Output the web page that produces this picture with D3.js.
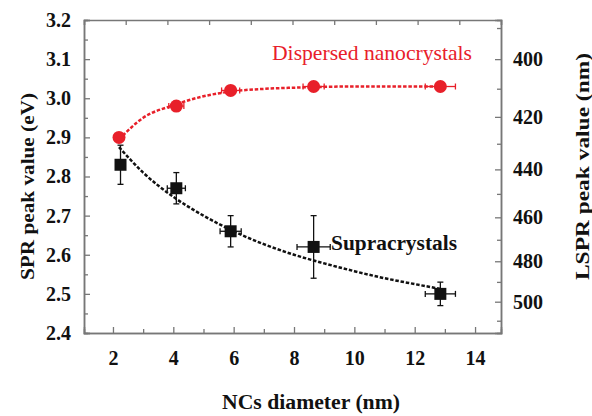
<!DOCTYPE html>
<html>
<head>
<meta charset="utf-8">
<script src="https://cdn.jsdelivr.net/npm/d3@7"></script>
<style>
  body { margin: 0; background: #fff; }
  svg { display: block; }
</style>
</head>
<body>
<svg id="chart" width="592" height="416"></svg>
<script>
// NCs diameter (nm) and SPR peak (eV)
const dispersedX = [2.2, 4.1, 5.9, 8.65, 12.85];
const dispersedY = [2.90, 2.98, 3.02, 3.03, 3.03];
const dispersedXErr = [0.15, 0.25, 0.3, 0.35, 0.5];
const dispersedYErr = [0.012, 0.012, 0.012, 0.012, 0.012];

const supraX = [2.25, 4.1, 5.9, 8.65, 12.85];
const supraY = [2.83, 2.77, 2.66, 2.62, 2.50];
const supraXErr = [0.1, 0.3, 0.35, 0.55, 0.5];
const supraYErr = [0.05, 0.04, 0.04, 0.08, 0.03];

// fitted curves
const dispersedFitX = [2.2, 3, 4, 5, 6, 7, 8, 10, 12.9];
const dispersedFitY = [2.895, 2.95, 2.982, 3.005, 3.018, 3.024, 3.027, 3.03, 3.03];
const supraFitX = [2.2, 3, 4, 5, 6, 7, 8, 9, 10, 11, 12, 12.9];
const supraFitY = [2.875, 2.81, 2.748, 2.70, 2.66, 2.627, 2.60, 2.578, 2.558, 2.54, 2.525, 2.512];

const xTicks = [2, 4, 6, 8, 10, 12, 14];
const yTicks = [2.4, 2.5, 2.6, 2.7, 2.8, 2.9, 3.0, 3.1, 3.2];
const lsprTicks = [400, 420, 440, 460, 480, 500];
const lsprMinor = [390, 410, 430, 450, 470, 490, 510];

// pick a serif face if one is installed
function pickFont(list) {
    const ctx = document.createElement("canvas").getContext("2d");
    const probe = "NCs diameter 0123456789 Wmi";
    ctx.font = "bold 40px monospace";
    const base = ctx.measureText(probe).width;
    for (const f of list) {
        ctx.font = `bold 40px "${f}", monospace`;
        if (Math.abs(ctx.measureText(probe).width - base) > 0.5) return `"${f}"`;
    }
    return "serif";
}
const font = pickFont(["Liberation Serif", "DejaVu Serif", "Noto Serif", "Times New Roman", "Tinos", "FreeSerif"]) + ", serif";

const svg = d3.select("#chart");
const frameColor = "#777";

const x = d3.scaleLinear().domain([1.04, 14.86]).range([84, 501]);
const y = d3.scaleLinear().domain([2.4, 3.2]).range([333, 20]);
const xTop = d3.scaleLinear().domain([0, 10]).range([84, 501]);

function styleAxis(g, size) {
    g.attr("font-family", null);
    g.select(".domain").attr("stroke", frameColor).attr("stroke-width", 1.5);
    g.selectAll(".tick line").attr("stroke", frameColor).attr("stroke-width", 1.3);
    g.selectAll("text")
        .style("font-family", font)
        .style("font-weight", "bold")
        .style("font-size", size + "px")
        .attr("fill", "#111");
}

// bottom axis, major + minor
const bottomAxis = svg.append("g").attr("transform", "translate(0,333)")
    .call(d3.axisBottom(x).tickValues(xTicks).tickSize(-6).tickPadding(18).tickFormat(d3.format("d")));
styleAxis(bottomAxis, 20);
const bottomMinor = svg.append("g").attr("transform", "translate(0,333)")
    .call(d3.axisBottom(x).tickValues([3, 5, 7, 9, 11, 13]).tickSize(-4).tickFormat(""));
styleAxis(bottomMinor, 20);

// top axis
const topAxis = svg.append("g").attr("transform", "translate(0,20)")
    .call(d3.axisTop(xTop).ticks(10).tickSize(-5).tickFormat(""));
styleAxis(topAxis, 20);

// left axis
const leftAxis = svg.append("g").attr("transform", "translate(84,0)")
    .call(d3.axisLeft(y).tickValues(yTicks).tickSize(-6).tickPadding(13).tickFormat(d3.format(".1f")));
styleAxis(leftAxis, 20);
const leftMinor = svg.append("g").attr("transform", "translate(84,0)")
    .call(d3.axisLeft(y).tickValues(d3.range(2.45, 3.2, 0.1)).tickSize(-4).tickFormat(""));
styleAxis(leftMinor, 20);

// right axis: wavelength in nm, E = 1240 / lambda
const rightAxis = svg.append("g").attr("transform", "translate(501,0)")
    .call(d3.axisRight(y).tickValues(lsprTicks.map(l => 1240 / l)).tickSize(-6).tickPadding(12)
        .tickFormat(e => Math.round(1240 / e)));
styleAxis(rightAxis, 20);
const rightMinor = svg.append("g").attr("transform", "translate(501,0)")
    .call(d3.axisRight(y).tickValues(lsprMinor.map(l => 1240 / l)).tickSize(-4).tickFormat(""));
styleAxis(rightMinor, 20);

// fit curves
const line = d3.line().x(d => x(d[0])).y(d => y(d[1])).curve(d3.curveMonotoneX);

svg.append("path")
    .datum(dispersedFitX.map((v, i) => [v, dispersedFitY[i]]))
    .attr("fill", "none").attr("stroke", "#e8202a").attr("stroke-width", 2.5)
    .attr("stroke-dasharray", "3.5,1.8").attr("d", line);

svg.append("path")
    .datum(supraFitX.map((v, i) => [v, supraFitY[i]]))
    .attr("fill", "none").attr("stroke", "#111").attr("stroke-width", 2.5)
    .attr("stroke-dasharray", "3.5,1.8").attr("d", line);

// error bars
function errorBars(xs, ys, xe, ye, color) {
    const g = svg.append("g").attr("stroke", color).attr("stroke-width", 1.3);
    xs.forEach((xv, i) => {
        const cx = x(xv), cy = y(ys[i]);
        const y1 = y(ys[i] + ye[i]), y2 = y(ys[i] - ye[i]);
        const x1 = x(xv - xe[i]), x2 = x(xv + xe[i]);
        g.append("line").attr("x1", cx).attr("x2", cx).attr("y1", y1).attr("y2", y2);
        g.append("line").attr("x1", cx - 3).attr("x2", cx + 3).attr("y1", y1).attr("y2", y1);
        g.append("line").attr("x1", cx - 3).attr("x2", cx + 3).attr("y1", y2).attr("y2", y2);
        g.append("line").attr("x1", x1).attr("x2", x2).attr("y1", cy).attr("y2", cy);
        g.append("line").attr("x1", x1).attr("x2", x1).attr("y1", cy - 3).attr("y2", cy + 3);
        g.append("line").attr("x1", x2).attr("x2", x2).attr("y1", cy - 3).attr("y2", cy + 3);
    });
}
errorBars(dispersedX, dispersedY, dispersedXErr, dispersedYErr, "#e8202a");
errorBars(supraX, supraY, supraXErr, supraYErr, "#111");

// markers
svg.append("g").selectAll("circle")
    .data(dispersedX)
    .join("circle")
    .attr("cx", d => x(d))
    .attr("cy", (d, i) => y(dispersedY[i]))
    .attr("r", 6.5)
    .attr("fill", "#e8202a");

svg.append("g").selectAll("rect")
    .data(supraX)
    .join("rect")
    .attr("x", d => x(d) - 6)
    .attr("y", (d, i) => y(supraY[i]) - 6)
    .attr("width", 12)
    .attr("height", 12)
    .attr("fill", "#111");

// text helper
function label(t, size, bold, color, len) {
    return svg.append("text")
        .text(t)
        .attr("textLength", len)
        .attr("lengthAdjust", "spacingAndGlyphs")
        .style("font-family", font)
        .style("font-weight", bold ? "bold" : "normal")
        .style("font-size", size + "px")
        .attr("fill", color);
}

// series labels
label("Dispersed nanocrystals", 21, false, "#e8202a", 200).attr("x", 272).attr("y", 60);
label("Supracrystals", 20, true, "#111", 126).attr("x", 331).attr("y", 250);

// axis titles
label("NCs diameter (nm)", 20, true, "#111", 178)
    .attr("x", 222).attr("y", 409);
label("SPR peak value (eV)", 19, true, "#111", 187)
    .attr("transform", "translate(34,280) rotate(-90)");
label("LSPR peak value (nm)", 19, true, "#111", 227)
    .attr("transform", "translate(589,280) rotate(-90)");
</script>
</body>
</html>
